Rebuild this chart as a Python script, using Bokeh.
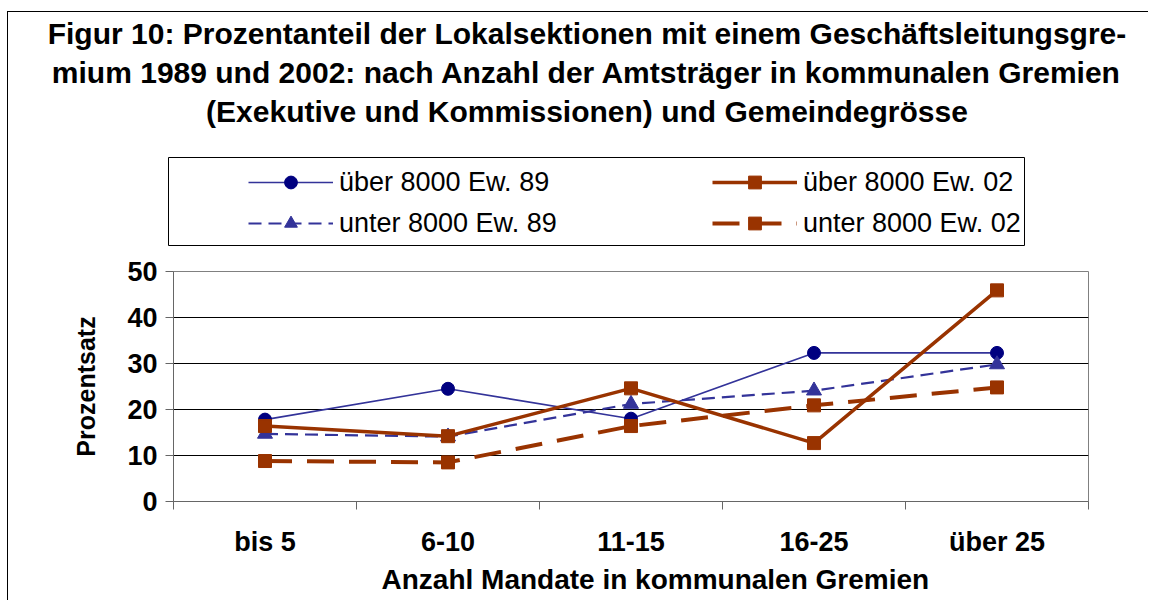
from bokeh.plotting import figure
from bokeh.models import (Range1d, FixedTicker, Legend, LegendItem, Title,
                          ColumnDataSource)
from bokeh.embed import file_html
from bokeh.resources import INLINE

# ---- data ----
categories = ["bis 5", "6-10", "11-15", "16-25", "über 25"]
ueber_89 = [17.8, 24.5, 18.0, 32.3, 32.3]
unter_89 = [14.7, 14.1, 21.2, 24.1, 29.8]
ueber_02 = [16.4, 14.2, 24.6, 12.7, 45.9]
unter_02 = [8.8, 8.5, 16.4, 20.9, 24.8]
series_names = ["über 8000 Ew. 89", "unter 8000 Ew. 89",
                "über 8000 Ew. 02", "unter 8000 Ew. 02"]
y_ticks = [0, 10, 20, 30, 40, 50]
title_lines = [
    "Figur 10: Prozentanteil der Lokalsektionen mit einem Geschäftsleitungsgre-",
    "mium 1989 und 2002: nach Anzahl der Amtsträger in kommunalen Gremien",
    "(Exekutive und Kommissionen) und Gemeindegrösse",
]
x_title = "Anzahl Mandate in kommunalen Gremien"
y_title = "Prozentsatz"

FONT = "Liberation Sans"
BLUE = "#333399"
NAVY = "#000080"
RUST = "#993300"

xs = [i + 0.5 for i in range(len(categories))]
source = ColumnDataSource(dict(x=xs, a=ueber_89, b=unter_89, c=ueber_02, d=unter_02))

styles = {
    "a": dict(line=dict(line_color=BLUE, line_width=1.6),
              marker=dict(marker="circle", size=13, fill_color=NAVY, line_color=NAVY)),
    "b": dict(line=dict(line_color=BLUE, line_width=2.2, line_dash="13 7"),
              marker=dict(marker="triangle", size=15, fill_color=BLUE, line_color=BLUE)),
    "c": dict(line=dict(line_color=RUST, line_width=3.5),
              marker=dict(marker="square", size=13, fill_color=RUST, line_color=RUST)),
    "d": dict(line=dict(line_color=RUST, line_width=4, line_dash="27 15"),
              marker=dict(marker="square", size=13, fill_color=RUST, line_color=RUST)),
}
keys = ["a", "b", "c", "d"]


def draw(p):
    out = {}
    for k in keys:
        lr = p.line("x", k, source=source, **styles[k]["line"])
        sr = p.scatter("x", k, source=source, **styles[k]["marker"])
        out[k] = [lr, sr]
    return out


W = 1133
BORDER = "1px solid black"
SIDE = {"margin-left": "7px", "border-left": BORDER}

# ---- title block ----
head = figure(width=1141, height=146, output_backend="svg", toolbar_location=None,
              x_range=Range1d(0, 1), y_range=Range1d(0, 1),
              min_border_left=16, min_border_right=0,
              min_border_top=0, min_border_bottom=0,
              styles=dict(SIDE, **{"margin-top": "11px", "border-top": BORDER}))
head.axis.visible = False
head.grid.visible = False
head.outline_line_color = None
for line in reversed(title_lines):
    head.add_layout(Title(text=line, align="center", text_font=FONT,
                          text_font_size="30px", text_font_style="bold",
                          text_color="black", standoff=3.5), "above")

# ---- legend box ----
top = figure(width=W, height=96, output_backend="svg", toolbar_location=None,
             x_range=Range1d(0, len(categories)), y_range=Range1d(1000, 1001),
             min_border_left=160, min_border_right=W - 1016,
             min_border_bottom=8, min_border_top=0, styles=dict(SIDE))
top.axis.visible = False
top.grid.visible = False
top.outline_line_color = "black"
top.outline_line_width = 1
rs = draw(top)


def make_legend(ks, locx):
    items = [LegendItem(label=series_names[keys.index(k)], renderers=rs[k]) for k in ks]
    return Legend(items=items, location=(locx, 6), orientation="vertical",
                  padding=0, margin=0, spacing=9, glyph_width=85, glyph_height=32,
                  label_height=32, label_standoff=6, border_line_alpha=0,
                  background_fill_alpha=0, label_text_font=FONT,
                  label_text_font_size="27px", label_text_color="black")


top.add_layout(make_legend(["a", "b"], 80))
top.add_layout(make_legend(["c", "d"], 544))

# ---- main figure ----
p = figure(width=W, height=347, output_backend="svg", toolbar_location=None,
           x_range=Range1d(0, len(categories)), y_range=Range1d(0, 50),
           min_border_left=165, min_border_right=53, min_border_top=18,
           min_border_bottom=99, styles=dict(SIDE))
draw(p)

p.outline_line_color = "#808080"
p.outline_line_width = 1
p.xgrid.visible = False
p.ygrid.grid_line_color = "black"
p.ygrid.grid_line_width = 1

p.yaxis.ticker = FixedTicker(ticks=y_ticks)
p.yaxis.major_tick_out = 8
p.yaxis.major_tick_in = 0
p.yaxis.minor_tick_line_color = None
p.yaxis.major_label_standoff = 8
p.yaxis.axis_label = y_title
p.yaxis.axis_label_standoff = 24
p.yaxis.axis_label_text_font = FONT
p.yaxis.axis_label_text_font_size = "25px"
p.yaxis.axis_label_text_font_style = "bold"
p.yaxis.axis_label_text_color = "black"

p.xaxis.ticker = FixedTicker(ticks=xs, minor_ticks=list(range(len(categories) + 1)))
p.xaxis.major_label_overrides = {x: c for x, c in zip(xs, categories)}
p.xaxis.major_tick_out = 0
p.xaxis.major_tick_in = 0
p.xaxis.minor_tick_out = 8
p.xaxis.minor_tick_in = 0
p.xaxis.major_label_standoff = 17

for ax in (p.xaxis, p.yaxis):
    ax.axis_line_color = "#666666"
    ax.axis_line_width = 1
    ax.major_tick_line_color = "#666666"
    ax.major_label_text_font = FONT
    ax.major_label_text_font_size = "27px"
    ax.major_label_text_font_style = "bold"
    ax.major_label_text_color = "black"
p.xaxis.minor_tick_line_color = "#666666"

p.add_layout(Title(text=x_title, align="left", offset=208, text_font=FONT,
                   text_font_size="28px", text_font_style="bold",
                   text_color="black", standoff=4), "below")

open("out.html", "w").write(file_html([head, top, p], INLINE))
